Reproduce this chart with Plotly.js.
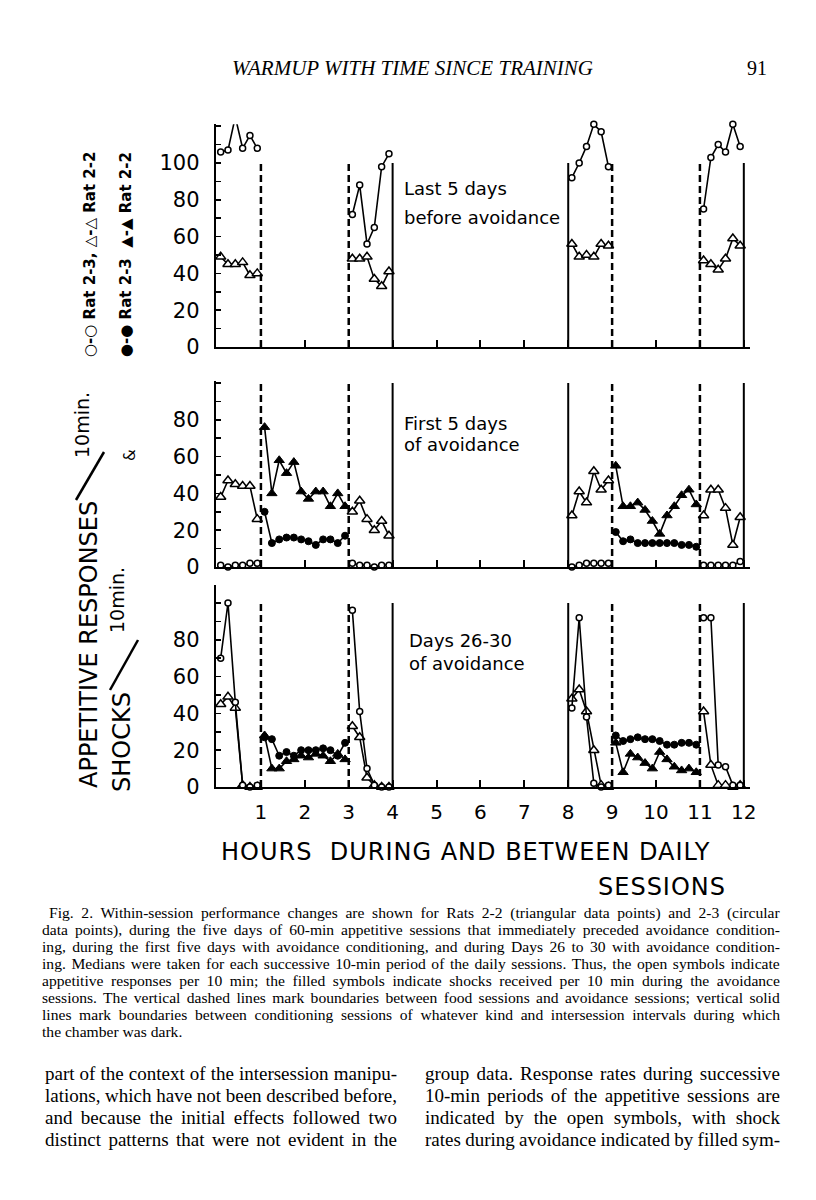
<!DOCTYPE html>
<html>
<head>
<meta charset="UTF-8">
<title>Warmup with time since training</title>
<script src="https://cdn.plot.ly/plotly-3.0.1.min.js"></script>
<style>
    body { margin: 0; background: #fff; }
    #chart { width: 816px; height: 1200px; }
</style>
</head>
<body>
<div id="chart"></div>
<script>
// session start hours (appetitive = 6 ten-minute periods, avoidance = 12)
const appetitiveStarts = [0, 3, 8, 11];
const avoidanceStarts = [1, 9];
const dashedAt = [1, 3, 9, 11];   // food <-> avoidance boundaries
const solidAt = [4, 8, 12];       // session <-> dark interval boundaries
const hourTicks = [1, 2, 3, 4, 5, 6, 7, 8, 9, 10, 11, 12];

// Panel 1: last 5 days before avoidance
const p1OpenCircles = [
    [106, 107, 125, 108, 115, 108],
    [72, 88, 56, 65, 98, 105],
    [92, 100, 109, 121, 117, 98],
    [75, 103, 110, 106, 121, 109]
];
const p1OpenTriangles = [
    [49, 45, 45, 46, 39, 40],
    [48, 48, 49, 37, 33, 41],
    [56, 49, 50, 49, 56, 55],
    [47, 45, 42, 48, 59, 55]
];

// Panel 2: first 5 days of avoidance
const p2OpenTriangles = [
    [38, 47, 45, 44, 44, 26],
    [30, 36, 26, 20, 25, 17],
    [28, 41, 35, 52, 42, 47],
    [28, 42, 42, 32, 12, 27]
];
const p2OpenCircles = [
    [1, 0, 1, 1, 2, 2],
    [2, 1, 1, 0, 1, 1],
    [0, 1, 2, 2, 2, 2],
    [1, 1, 1, 1, 1, 3]
];
const p2FilledTriangles = [
    [76, 40, 58, 51, 57, 41, 37, 41, 41, 33, 40, 33],
    [55, 33, 33, 35, 31, 25, 18, 28, 33, 39, 42, 34]
];
const p2FilledCircles = [
    [30, 13, 15, 16, 16, 15, 14, 12, 15, 15, 13, 17],
    [19, 14, 15, 13, 13, 13, 13, 13, 13, 12, 12, 11]
];

// Panel 3: days 26-30 of avoidance
const p3OpenCircles = [
    [70, 100, 46, 1, 0, 1],
    [96, 41, 10, 1, 0, 0],
    [43, 92, 38, 2, 0, 1],
    [92, 92, 12, 11, 1, 1]
];
const p3OpenTriangles = [
    [45, 49, 43, 1, 0, 0],
    [33, 27, 5, 1, 0, 0],
    [48, 53, 41, 20, 1, 0],
    [41, 12, 1, 1, 0, 1]
];
const p3FilledCircles = [
    [27, 26, 17, 19, 17, 20, 20, 20, 21, 20, 17, 24],
    [28, 25, 26, 27, 26, 26, 25, 23, 23, 24, 24, 23]
];
const p3FilledTriangles = [
    [28, 10, 10, 14, 15, 17, 16, 18, 17, 14, 18, 15],
    [24, 8, 18, 16, 13, 10, 19, 15, 11, 9, 10, 8]
];

const panelTitles = [
    ['Last 5 days', 'before avoidance'],
    ['First 5 days', 'of avoidance'],
    ['Days 26-30', 'of avoidance']
];

const captionLines = [
    'Fig. 2. Within-session performance changes are shown for Rats 2-2 (triangular data points) and 2-3 (circular',
    'data points), during the five days of 60-min appetitive sessions that immediately preceded avoidance condition-',
    'ing, during the first five days with avoidance conditioning, and during Days 26 to 30 with avoidance condition-',
    'ing. Medians were taken for each successive 10-min period of the daily sessions. Thus, the open symbols indicate',
    'appetitive responses per 10 min; the filled symbols indicate shocks received per 10 min during the avoidance',
    'sessions. The vertical dashed lines mark boundaries between food sessions and avoidance sessions; vertical solid',
    'lines mark boundaries between conditioning sessions of whatever kind and intersession intervals during which',
    'the chamber was dark.'
];
const bodyLeft = [
    'part of the context of the intersession manipu-',
    'lations, which have not been described before,',
    'and because the initial effects followed two',
    'distinct patterns that were not evident in the'
];
const bodyRight = [
    'group data. Response rates during successive',
    '10-min periods of the appetitive sessions are',
    'indicated by the open symbols, with shock',
    'rates during avoidance indicated by filled sym-'
];

// ---- helpers ----
const W = 816, H = 1200;
const px = x => x / W;
const py = y => 1 - y / H;
const FONT = 'DejaVu Sans, sans-serif';
const SERIF = 'Liberation Serif, Times New Roman, serif';

// each 10-min period is centred inside its slot
function series(starts, sessions) {
    const x = [], y = [];
    sessions.forEach((vals, s) => {
        vals.forEach((v, i) => {
            x.push(starts[s] + (i + 0.5) / 6);
            y.push(v);
        });
        x.push(null); y.push(null);
    });
    return { x, y };
}

const openCircle = { symbol: 'circle', size: 6, color: '#fff', line: { color: '#000', width: 1.5 } };
const openTri = { symbol: 'triangle-up', size: 9, color: '#fff', line: { color: '#000', width: 1.5 } };
const fillCircle = { symbol: 'circle', size: 7, color: '#000', line: { color: '#000', width: 1 } };
const fillTri = { symbol: 'triangle-up', size: 9, color: '#000', line: { color: '#000', width: 1 } };

function trace(starts, sessions, marker, xa, ya) {
    const s = series(starts, sessions);
    return {
        type: 'scatter', mode: 'lines+markers',
        x: s.x, y: s.y, xaxis: xa, yaxis: ya,
        line: { color: '#000', width: 1.6 },
        marker: marker, cliponaxis: false, connectgaps: false,
        hoverinfo: 'skip', showlegend: false
    };
}

const data = [
    trace(appetitiveStarts, p1OpenTriangles, openTri, 'x', 'y'),
    trace(appetitiveStarts, p1OpenCircles, openCircle, 'x', 'y'),

    trace(appetitiveStarts, p2OpenTriangles, openTri, 'x2', 'y2'),
    trace(appetitiveStarts, p2OpenCircles, openCircle, 'x2', 'y2'),
    trace(avoidanceStarts, p2FilledCircles, fillCircle, 'x2', 'y2'),
    trace(avoidanceStarts, p2FilledTriangles, fillTri, 'x2', 'y2'),

    trace(appetitiveStarts, p3OpenTriangles, openTri, 'x3', 'y3'),
    trace(appetitiveStarts, p3OpenCircles, openCircle, 'x3', 'y3'),
    trace(avoidanceStarts, p3FilledCircles, fillCircle, 'x3', 'y3'),
    trace(avoidanceStarts, p3FilledTriangles, fillTri, 'x3', 'y3')
];

// ---- axes ----
const pxPerUnit = 1.84;
const xDomain = [px(215.7), px(750.4)];
function xAxis(anchor, labels) {
    return {
        domain: xDomain, range: [-0.03, 12.15], anchor: anchor,
        showline: true, linecolor: '#000', linewidth: 2,
        showgrid: false, zeroline: false,
        ticks: 'inside', ticklen: 7, tickwidth: 2, tickcolor: '#000',
        tickvals: hourTicks, showticklabels: labels,
        ticklabelstandoff: 6,
        tickfont: { family: FONT, size: 20, color: '#000' }
    };
}
function yAxis(anchor, base, top, labelMax) {
    const vals = [], text = [];
    for (let v = 0; v <= top - 1; v += 10) {
        vals.push(v);
        text.push(v % 20 === 0 && v <= labelMax ? String(v) : '');
    }
    return {
        domain: [py(base), py(base - top * pxPerUnit)], range: [0, top], anchor: anchor,
        showline: true, linecolor: '#000', linewidth: 2,
        showgrid: false, zeroline: false,
        ticks: 'inside', ticklen: 5, tickwidth: 1.5, tickcolor: '#000',
        tickvals: vals, ticktext: text, ticklabelstandoff: 10,
        tickfont: { family: FONT, size: 21, color: '#000' }
    };
}

const panelTops = [121, 101, 110];
const vlineTops = [100, 100, 100];
const yRefs = ['y', 'y2', 'y3'];
const xRefs = ['x', 'x2', 'x3'];

const shapes = [];
for (let p = 0; p < 3; p++) {
    dashedAt.forEach(h => shapes.push({
        type: 'line', xref: xRefs[p], yref: yRefs[p], x0: h, x1: h, y0: 0, y1: vlineTops[p],
        line: { color: '#000', width: 2.5, dash: '7px,4px' }
    }));
    solidAt.forEach(h => shapes.push({
        type: 'line', xref: xRefs[p], yref: yRefs[p], x0: h, x1: h, y0: 0, y1: vlineTops[p],
        line: { color: '#000', width: 2 }
    }));
}
// the big slashes of the y titles
shapes.push({ type: 'line', xref: 'paper', yref: 'paper', x0: px(76), y0: py(500), x1: px(104), y1: py(452), line: { color: '#000', width: 2.5 } });
shapes.push({ type: 'line', xref: 'paper', yref: 'paper', x0: px(110), y0: py(690), x1: px(138), y1: py(640), line: { color: '#000', width: 2.5 } });

// ---- text ----
const annotations = [];
function note(text, x, y, opts) {
    annotations.push(Object.assign({
        text: text, xref: 'paper', yref: 'paper', x: px(x), y: py(y),
        xanchor: 'left', yanchor: 'middle', showarrow: false,
        font: { family: FONT, size: 18, color: '#000' }
    }, opts || {}));
}

// stretch the word gaps so a printed line fills its column
const ctx = document.createElement('canvas').getContext('2d');
function justify(line, size, width) {
    ctx.font = size + 'px "Liberation Serif"';
    const gaps = (line.match(/ /g) || []).length;
    if (!gaps) return line;
    const extra = (width - ctx.measureText(line).width) / gaps;
    return '<span style="word-spacing:' + extra.toFixed(2) + 'px">' + line + '</span>';
}

const titleRows = [[188, 218], [423, 444], [640, 663]];
const titleX = [402, 402, 407];
panelTitles.forEach((t, p) => {
    note(t[0], titleX[p], titleRows[p][0]);
    note(t[1], titleX[p], titleRows[p][1]);
});

// header
note('<i>WARMUP WITH TIME SINCE TRAINING</i>', 412, 68, { xanchor: 'center', font: { family: SERIF, size: 21, color: '#000' } });
note('91', 757, 68, { xanchor: 'center', font: { family: SERIF, size: 20, color: '#000' } });

// x title
const spaced = t => '<span style="letter-spacing:1px">' + t + '</span>';
note(spaced('HOURS  DURING AND BETWEEN DAILY'), 465, 852, { xanchor: 'center', font: { family: FONT, size: 24, color: '#000' } });
note(spaced('SESSIONS'), 662, 887, { xanchor: 'center', font: { family: FONT, size: 24, color: '#000' } });

// rotated y titles and symbol key
const rot = { textangle: -90, xanchor: 'center', yanchor: 'middle' };
note('APPETITIVE RESPONSES', 89, 645, Object.assign({ font: { family: FONT, size: 24, color: '#000' } }, rot));
note('10min.', 82, 425, Object.assign({ font: { family: FONT, size: 19, color: '#000' } }, rot));
note('SHOCKS', 122, 742, Object.assign({ font: { family: FONT, size: 24, color: '#000' } }, rot));
note('10min.', 117, 600, Object.assign({ font: { family: FONT, size: 19, color: '#000' } }, rot));
note('&amp;', 130, 455, Object.assign({ font: { family: FONT, size: 15, color: '#000' } }, rot));
note('<b>○-○ Rat 2-3, △-△ Rat 2-2</b>', 90, 255, Object.assign({ font: { family: FONT, size: 15, color: '#000' } }, rot));
note('<b>●-● Rat 2-3  ▲-▲ Rat 2-2</b>', 126, 255, Object.assign({ font: { family: FONT, size: 15, color: '#000' } }, rot));

// caption and body text
const capSize = 15.6, bodySize = 19;
captionLines.forEach((line, i) => {
    const left = i === 0 ? 47 : 40;
    const last = i === captionLines.length - 1;
    note(last ? line : justify(line, capSize, 778 - left), left, 913 + i * 16.9,
        { font: { family: SERIF, size: capSize, color: '#000' } });
});
bodyLeft.forEach((line, i) => {
    note(justify(line, bodySize, 352), 43, 1073 + i * 22, { font: { family: SERIF, size: bodySize, color: '#000' } });
});
bodyRight.forEach((line, i) => {
    note(justify(line, bodySize, 355), 423, 1073 + i * 22, { font: { family: SERIF, size: bodySize, color: '#000' } });
});

const layout = {
    width: W, height: H,
    margin: { l: 0, r: 0, t: 0, b: 0 },
    paper_bgcolor: '#fff', plot_bgcolor: 'rgba(0,0,0,0)',
    showlegend: false,
    xaxis: xAxis('y', false),
    xaxis2: xAxis('y2', false),
    xaxis3: xAxis('y3', true),
    yaxis: yAxis('x', 347, panelTops[0], 100),
    yaxis2: yAxis('x2', 567, panelTops[1], 80),
    yaxis3: yAxis('x3', 787, panelTops[2], 80),
    shapes: shapes,
    annotations: annotations
};

Plotly.newPlot('chart', data, layout, { staticPlot: true, displayModeBar: false });
</script>
</body>
</html>
